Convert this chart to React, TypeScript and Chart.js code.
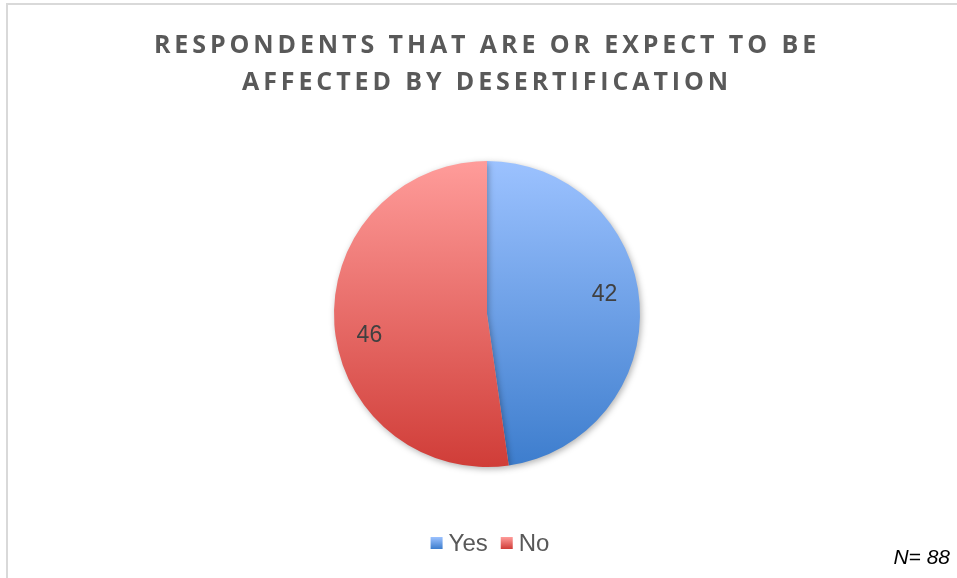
import React, { useEffect, useRef } from "react";
import { Chart, registerables } from "chart.js";

Chart.register(...registerables);

const titleLines = ["RESPONDENTS THAT ARE OR EXPECT TO BE", "AFFECTED BY DESERTIFICATION"];
const categories = ["Yes", "No"];
const values = [42, 46];
const topColors = ["#9CC2FF", "#FF9C9A"];
const bottomColors = ["#3D7DCD", "#D03D38"];
const sampleNote = "N= 88";

const W = 957;
const H = 578;

const decorPlugin = {
  id: "decor",
  beforeDraw(chart: any) {
    const ctx = chart.ctx;
    ctx.save();
    ctx.fillStyle = "#ffffff";
    ctx.fillRect(0, 0, chart.width, chart.height);
    ctx.strokeStyle = "#D9D9D9";
    ctx.lineWidth = 2;
    ctx.strokeRect(7, 4, chart.width + 10, chart.height + 10);
    // title
    ctx.fillStyle = "#595959";
    ctx.font = "bold 25px 'Open Sans'";
    (ctx as any).letterSpacing = "3.9px";
    ctx.textAlign = "center";
    ctx.textBaseline = "middle";
    titleLines.forEach((t, i) => {
      ctx.fillText(t, 487, 46 + i * 37);
    });
    ctx.restore();
  },
  beforeDatasetsDraw(chart: any) {
    const ctx = chart.ctx;
    ctx.save();
    ctx.shadowColor = "rgba(0,0,0,0.3)";
    ctx.shadowBlur = 6;
    ctx.shadowOffsetX = 1.5;
    ctx.shadowOffsetY = 2;
  },
  afterDatasetsDraw(chart: any) {
    const ctx = chart.ctx;
    ctx.restore();
    ctx.save();
    // data labels
    const meta = chart.getDatasetMeta(0);
    ctx.fillStyle = "#404040";
    ctx.font = "23px 'Liberation Sans'";
    ctx.textAlign = "center";
    ctx.textBaseline = "middle";
    meta.data.forEach((arc: any, i: number) => {
      const p = arc.getProps(["x", "y", "startAngle", "endAngle", "outerRadius"], true);
      const mid = (p.startAngle + p.endAngle) / 2 - 0.1;
      const r = p.outerRadius * 0.78;
      ctx.fillText(String(values[i]), p.x + Math.cos(mid) * r, p.y + Math.sin(mid) * r + 1);
    });
    // legend
    ctx.font = "24px 'Liberation Sans'";
    ctx.textAlign = "left";
    const sq = 12;
    const gap = 6;
    const itemGap = 13;
    const widths = categories.map((c) => sq + gap + ctx.measureText(c).width);
    const total = widths.reduce((a, b) => a + b, 0) + itemGap * (categories.length - 1);
    let x = 490 - total / 2;
    const ly = 543;
    categories.forEach((c, i) => {
      const g = ctx.createLinearGradient(0, ly - sq / 2, 0, ly + sq / 2);
      g.addColorStop(0, topColors[i]);
      g.addColorStop(1, bottomColors[i]);
      ctx.fillStyle = g;
      ctx.fillRect(x, ly - sq / 2, sq, sq);
      ctx.fillStyle = "#595959";
      ctx.fillText(c, x + sq + gap, ly + 1);
      x += widths[i] + itemGap;
    });
    // note
    ctx.fillStyle = "#000000";
    ctx.font = "italic 21px 'Liberation Sans'";
    ctx.textAlign = "right";
    ctx.fillText(sampleNote, 950, 558);
    ctx.restore();
  },
};

export default function App() {
  const ref = useRef<HTMLCanvasElement>(null);
  useEffect(() => {
    if (!ref.current) return;
    const chart = new Chart(ref.current, {
      type: "pie",
      data: {
        labels: categories,
        datasets: [
          {
            data: values,
            backgroundColor: (c: any) => {
              const area = c.chart.chartArea;
              const i = c.dataIndex;
              if (!area) return bottomColors[i];
              const g = c.chart.ctx.createLinearGradient(0, area.top, 0, area.bottom);
              g.addColorStop(0, topColors[i]);
              g.addColorStop(1, bottomColors[i]);
              return g;
            },
            borderWidth: 0,
            hoverOffset: 0,
          },
        ],
      },
      options: {
        responsive: false,
        animation: false,
        layout: { padding: { top: 161, bottom: 111, left: 17, right: 0 } },
        plugins: {
          legend: { display: false },
          title: { display: false },
          tooltip: { enabled: false },
        },
      },
      plugins: [decorPlugin],
    });
    return () => chart.destroy();
  }, []);
  return (
    <div style={{ position: "absolute", left: 0, top: 0, width: W, height: H, background: "#fff" }}>
      <canvas ref={ref} width={W} height={H} style={{ width: W, height: H, display: "block" }} />
    </div>
  );
}
